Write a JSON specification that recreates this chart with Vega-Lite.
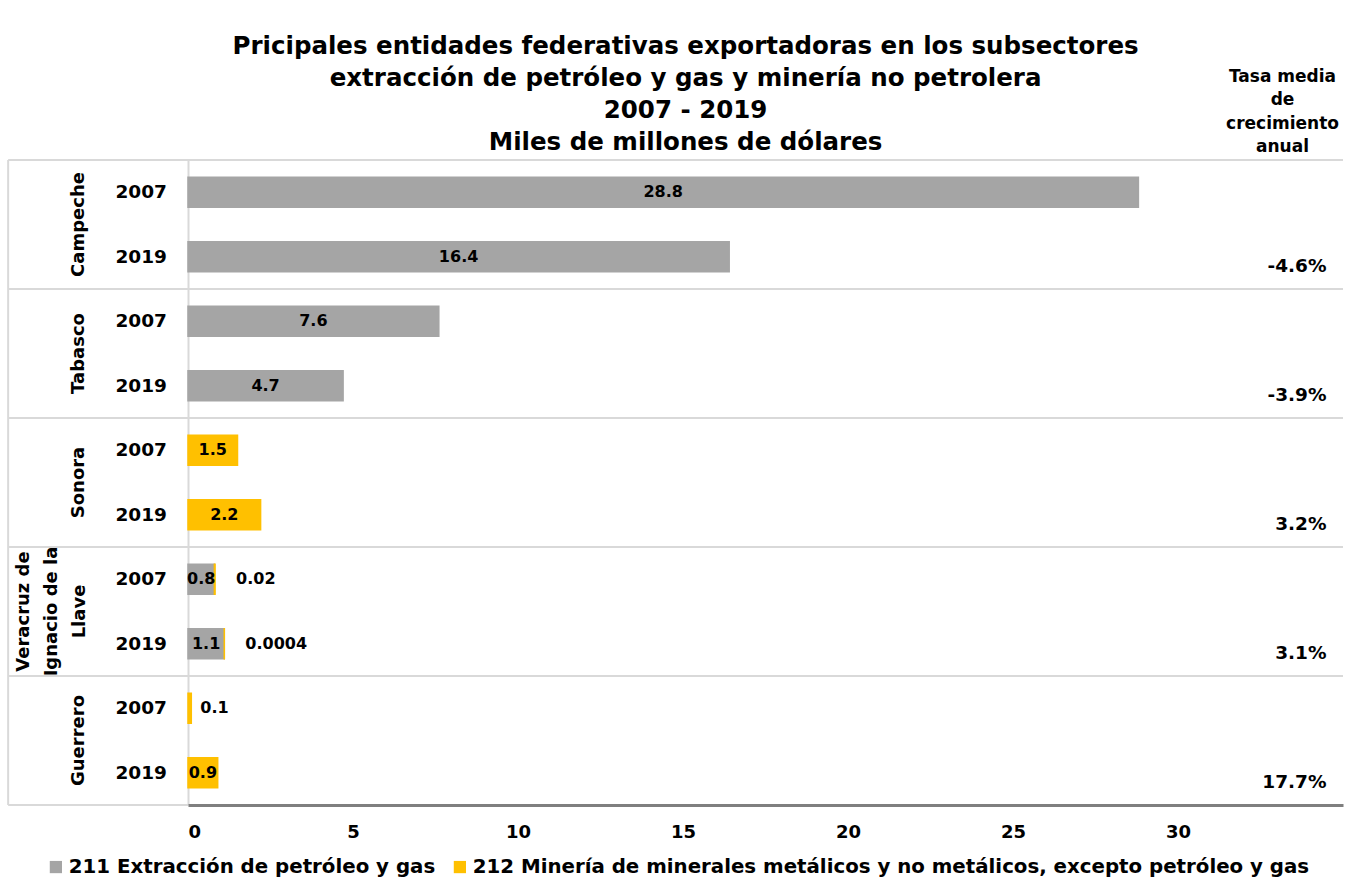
{
  "$schema": "https://vega.github.io/schema/vega-lite/v6.json",
  "width": 1155,
  "height": 645,
  "autosize": {"type": "none"},
  "padding": {"left": 188, "top": 160, "right": 13, "bottom": 82},
  "background": "white",
  "config": {"font": "DejaVu Sans", "view": {"stroke": null}},
  "title": {
    "text": ["Pricipales entidades federativas exportadoras en los subsectores", "extracción de petróleo y gas y minería no petrolera", "2007 - 2019", "Miles de millones de dólares"],
    "fontSize": 24.5,
    "fontWeight": "bold",
    "lineHeight": 32,
    "anchor": "middle",
    "frame": "bounds",
    "offset": -88,
    "dx": 10,
    "color": "#000000"
  },
  "datasets": {
    "bars": [
      {"state": "Campeche", "year": "2007", "sector": "211 Extracción de petróleo y gas", "value": 28.8, "label": "28.8"},
      {"state": "Campeche", "year": "2019", "sector": "211 Extracción de petróleo y gas", "value": 16.4, "label": "16.4"},
      {"state": "Tabasco", "year": "2007", "sector": "211 Extracción de petróleo y gas", "value": 7.6, "label": "7.6"},
      {"state": "Tabasco", "year": "2019", "sector": "211 Extracción de petróleo y gas", "value": 4.7, "label": "4.7"},
      {"state": "Sonora", "year": "2007", "sector": "212 Minería de minerales metálicos y no metálicos, excepto petróleo y gas", "value": 1.5, "label": "1.5"},
      {"state": "Sonora", "year": "2019", "sector": "212 Minería de minerales metálicos y no metálicos, excepto petróleo y gas", "value": 2.2, "label": "2.2"},
      {"state": "Veracruz de Ignacio de la Llave", "year": "2007", "sector": "211 Extracción de petróleo y gas", "value": 0.8, "label": "0.8"},
      {"state": "Veracruz de Ignacio de la Llave", "year": "2007", "sector": "212 Minería de minerales metálicos y no metálicos, excepto petróleo y gas", "value": 0.02, "label": "0.02"},
      {"state": "Veracruz de Ignacio de la Llave", "year": "2019", "sector": "211 Extracción de petróleo y gas", "value": 1.1, "label": "1.1"},
      {"state": "Veracruz de Ignacio de la Llave", "year": "2019", "sector": "212 Minería de minerales metálicos y no metálicos, excepto petróleo y gas", "value": 0.0004, "label": "0.0004"},
      {"state": "Guerrero", "year": "2007", "sector": "212 Minería de minerales metálicos y no metálicos, excepto petróleo y gas", "value": 0.1, "label": "0.1"},
      {"state": "Guerrero", "year": "2019", "sector": "212 Minería de minerales metálicos y no metálicos, excepto petróleo y gas", "value": 0.9, "label": "0.9"}
    ],
    "states": [
      {"state": "Campeche", "name": "Campeche", "growth": "-4.6%"},
      {"state": "Tabasco", "name": "Tabasco", "growth": "-3.9%"},
      {"state": "Sonora", "name": "Sonora", "growth": "3.2%"},
      {"state": "Veracruz de Ignacio de la Llave", "name": "Veracruz de\nIgnacio de la\nLlave", "growth": "3.1%"},
      {"state": "Guerrero", "name": "Guerrero", "growth": "17.7%"}
    ]
  },
  "layer": [
    {
      "data": {"name": "states"},
      "mark": {"type": "rule", "color": "#D9D9D9", "strokeWidth": 2},
      "encoding": {
        "y": {
          "field": "state", "type": "nominal", "bandPosition": 0,
          "scale": {"domain": ["Campeche", "Tabasco", "Sonora", "Veracruz de Ignacio de la Llave", "Guerrero"], "paddingInner": 0, "paddingOuter": 0},
          "axis": {
            "title": ["Tasa media", "de", "crecimiento", "anual"],
            "titleAngle": 0, "titleX": 1094, "titleY": -84, "titleAlign": "center", "titleBaseline": "middle",
            "titleFontSize": 17, "titleFontWeight": "bold", "titleLineHeight": 23.5, "titleColor": "#000000",
            "labels": false, "ticks": false, "tickSize": 0, "domainColor": "#D9D9D9", "domainWidth": 2, "grid": false
          }
        },
        "x": {"datum": -5.45},
        "x2": {"datum": 35}
      }
    },
    {
      "data": {"name": "states"},
      "transform": [{"filter": "datum.state == 'Guerrero'"}],
      "mark": {"type": "rule", "color": "#D9D9D9", "strokeWidth": 2},
      "encoding": {
        "y": {"field": "state", "type": "nominal", "bandPosition": 1},
        "x": {"datum": -5.45},
        "x2": {"datum": 0}
      }
    },
    {
      "data": {"name": "states"},
      "mark": {"type": "rect", "fill": null, "stroke": "#D9D9D9", "strokeWidth": 2},
      "encoding": {
        "y": {"field": "state", "type": "nominal"},
        "x": {"datum": -5.45},
        "x2": {"datum": -5.45}
      }
    },
    {
      "data": {"name": "states"},
      "transform": [{"filter": "datum.state != 'Veracruz de Ignacio de la Llave'"}],
      "mark": {"type": "text", "angle": 270, "fontSize": 18, "fontWeight": "bold", "color": "#000000", "align": "center", "baseline": "middle"},
      "encoding": {
        "y": {"field": "state", "type": "nominal"},
        "x": {"datum": -3.3},
        "text": {"field": "name", "type": "nominal"}
      }
    },
    {
      "data": {"name": "states"},
      "transform": [{"filter": "datum.state == 'Veracruz de Ignacio de la Llave'"}],
      "mark": {"type": "text", "angle": 270, "fontSize": 18, "fontWeight": "bold", "color": "#000000", "align": "center", "baseline": "middle", "lineBreak": "\n", "lineHeight": 28},
      "encoding": {
        "y": {"field": "state", "type": "nominal"},
        "x": {"datum": -4.97},
        "text": {"field": "name", "type": "nominal"}
      }
    },
    {
      "data": {"name": "bars"},
      "mark": {"type": "bar", "strokeWidth": 1.5},
      "encoding": {
        "y": {"field": "state", "type": "nominal"},
        "yOffset": {"field": "year", "type": "ordinal", "scale": {"domain": ["2007", "2019"], "paddingInner": 0.535, "paddingOuter": 0.2675}},
        "x": {
          "field": "value", "type": "quantitative", "stack": "zero",
          "scale": {"domain": [0, 35], "nice": false, "zero": true},
          "axis": {"orient": "bottom", "values": [0, 5, 10, 15, 20, 25, 30], "labelFontSize": 18, "labelFontWeight": "bold", "labelColor": "#000000", "labelPadding": 18, "ticks": false, "domainColor": "#7F7F7F", "domainWidth": 3, "grid": false, "title": null, "zindex": 1}
        },
        "color": {
          "field": "sector", "type": "nominal",
          "scale": {"domain": ["211 Extracción de petróleo y gas", "212 Minería de minerales metálicos y no metálicos, excepto petróleo y gas"], "range": ["#A5A5A5", "#FFC000"]},
          "legend": {"orient": "none", "legendX": -142, "legendY": 697, "direction": "horizontal", "title": null, "symbolType": "square", "symbolSize": 150, "symbolStrokeWidth": 0, "labelFontSize": 19.8, "labelFontWeight": "bold", "labelColor": "#000000", "columnPadding": 14, "labelOffset": 3, "labelLimit": 0}
        },
        "stroke": {
          "field": "sector", "type": "nominal",
          "scale": {"domain": ["211 Extracción de petróleo y gas", "212 Minería de minerales metálicos y no metálicos, excepto petróleo y gas"], "range": ["#A5A5A5", "#FFC000"]},
          "legend": null
        },
        "order": {"field": "sector", "type": "nominal"}
      }
    },
    {
      "data": {"name": "bars"},
      "transform": [{"filter": "datum.value >= 0.5"}],
      "mark": {"type": "text", "fontSize": 16, "fontWeight": "bold", "color": "#000000", "align": "center", "baseline": "middle"},
      "encoding": {
        "y": {"field": "state", "type": "nominal"},
        "yOffset": {"field": "year", "type": "ordinal"},
        "x": {"field": "value", "type": "quantitative", "stack": "zero", "bandPosition": 0.5},
        "detail": {"field": "sector", "type": "nominal"},
        "text": {"field": "label", "type": "nominal"}
      }
    },
    {
      "data": {"name": "bars"},
      "transform": [
        {"stack": "value", "groupby": ["state", "year"], "sort": [{"field": "sector"}], "as": ["v0", "v1"]},
        {"filter": "datum.value < 0.5 && datum.state != 'Guerrero'"}
      ],
      "mark": {"type": "text", "fontSize": 16, "fontWeight": "bold", "color": "#000000", "align": "left", "baseline": "middle", "dx": 21},
      "encoding": {
        "y": {"field": "state", "type": "nominal"},
        "yOffset": {"field": "year", "type": "ordinal"},
        "x": {"field": "v1", "type": "quantitative"},
        "text": {"field": "label", "type": "nominal"}
      }
    },
    {
      "data": {"name": "bars"},
      "transform": [
        {"stack": "value", "groupby": ["state", "year"], "sort": [{"field": "sector"}], "as": ["v0", "v1"]},
        {"filter": "datum.value < 0.5 && datum.state == 'Guerrero'"}
      ],
      "mark": {"type": "text", "fontSize": 16, "fontWeight": "bold", "color": "#000000", "align": "left", "baseline": "middle", "dx": 9},
      "encoding": {
        "y": {"field": "state", "type": "nominal"},
        "yOffset": {"field": "year", "type": "ordinal"},
        "x": {"field": "v1", "type": "quantitative"},
        "text": {"field": "label", "type": "nominal"}
      }
    },
    {
      "data": {"name": "bars"},
      "transform": [{"aggregate": [{"op": "count", "as": "n"}], "groupby": ["state", "year"]}],
      "mark": {"type": "text", "fontSize": 18.5, "fontWeight": "bold", "color": "#000000", "align": "right", "baseline": "middle", "dx": -21},
      "encoding": {
        "y": {"field": "state", "type": "nominal"},
        "yOffset": {"field": "year", "type": "ordinal"},
        "x": {"datum": 0},
        "text": {"field": "year", "type": "nominal"}
      }
    },
    {
      "data": {"name": "states"},
      "mark": {"type": "text", "fontSize": 18.5, "fontWeight": "bold", "color": "#000000", "align": "right", "baseline": "middle"},
      "encoding": {
        "y": {"field": "state", "type": "nominal", "bandPosition": 0.82},
        "x": {"datum": 34.5},
        "text": {"field": "growth", "type": "nominal"}
      }
    }
  ]
}
